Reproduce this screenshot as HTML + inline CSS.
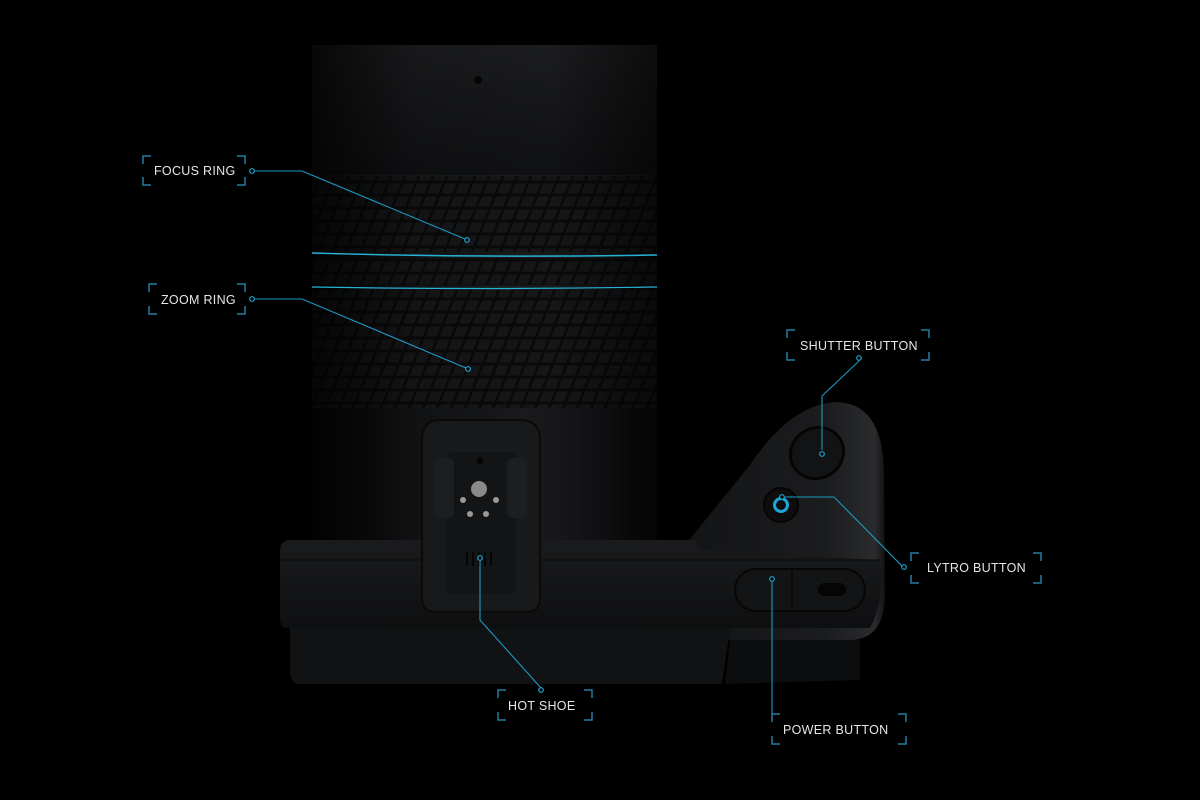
<!DOCTYPE html>
<html><head><meta charset="utf-8"><style>
html,body{margin:0;padding:0;background:#000;}
svg{display:block}
text{font-family:"Liberation Sans",sans-serif;font-size:12.5px;fill:#e6e6e6;letter-spacing:0.3px}
</style></head><body>
<svg width="1200" height="800" viewBox="0 0 1200 800" xmlns="http://www.w3.org/2000/svg">
<defs>
<linearGradient id="cyl" x1="0" x2="1" y1="0" y2="0">
<stop offset="0" stop-color="#08080a"/><stop offset="0.25" stop-color="#131416"/><stop offset="0.6" stop-color="#1c1d1f"/><stop offset="0.85" stop-color="#161719"/><stop offset="1" stop-color="#0a0a0b"/>
</linearGradient>
<linearGradient id="topfade" x1="0" x2="0" y1="0" y2="1">
<stop offset="0" stop-color="#1e1f21"/><stop offset="1" stop-color="#111214"/>
</linearGradient>
<linearGradient id="body" x1="0" x2="0" y1="0" y2="1">
<stop offset="0" stop-color="#1a1b1d"/><stop offset="1" stop-color="#0e0f10"/>
</linearGradient>
<linearGradient id="grip" x1="0" x2="1" y1="0" y2="0">
<stop offset="0" stop-color="#131416"/><stop offset="0.7" stop-color="#1b1c1e"/><stop offset="0.95" stop-color="#2a2b2d"/><stop offset="1" stop-color="#111"/>
</linearGradient>
<pattern id="knurl" width="14" height="13" patternUnits="userSpaceOnUse" patternTransform="skewX(-22)">
<rect width="14" height="13" fill="#0b0b0c"/>
<rect x="1.5" y="1.5" width="11" height="10" fill="#18191b"/>
</pattern>
<linearGradient id="shade" x1="0" x2="1" y1="0" y2="0">
<stop offset="0" stop-color="#000" stop-opacity="0.75"/><stop offset="0.3" stop-color="#000" stop-opacity="0.2"/><stop offset="0.7" stop-color="#000" stop-opacity="0.1"/><stop offset="1" stop-color="#000" stop-opacity="0.6"/>
</linearGradient>
</defs>
<rect width="1200" height="800" fill="#000"/>

<!-- lens -->
<rect x="312" y="45" width="345" height="505" fill="url(#cyl)"/>
<rect x="312" y="45" width="345" height="130" fill="url(#topfade)"/>
<rect x="312" y="45" width="345" height="130" fill="url(#shade)"/>
<circle cx="478" cy="80" r="4" fill="#050505"/>
<rect x="312" y="176" width="345" height="76" fill="url(#knurl)"/>
<rect x="312" y="258" width="345" height="27" fill="url(#knurl)"/>
<rect x="312" y="290" width="345" height="118" fill="url(#knurl)"/>
<rect x="312" y="176" width="345" height="232" fill="url(#shade)"/>
<path d="M312 253 Q480 258 657 255" stroke="#27b3d6" stroke-width="1.5" fill="none"/>
<path d="M312 287 Q480 290 657 287" stroke="#27b3d6" stroke-width="1.2" fill="none"/>
<rect x="312" y="408" width="345" height="140" fill="url(#shade)"/>

<!-- grip -->
<path d="M685 545 L750 465 Q790 405 835 402 Q882 402 884 470 L885 600 Q882 640 850 640 L685 640 Z" fill="url(#grip)"/>
<!-- body -->
<path d="M290 540 L690 540 Q700 540 700 550 L880 560 Q885 600 870 628 L285 628 Q280 628 280 615 L280 552 Q280 540 290 540 Z" fill="url(#body)"/>
<path d="M290 628 L730 628 L722 684 L300 684 Q290 684 290 670 Z" fill="#111213"/>
<path d="M730 640 L860 640 L860 680 L725 684 Z" fill="#0c0d0e"/>
<line x1="280" y1="560" x2="880" y2="560" stroke="#0a0a0a" stroke-width="1"/>
<!-- power pill -->
<rect x="735" y="569" width="130" height="42" rx="21" fill="#131415" stroke="#070707" stroke-width="2"/>
<line x1="792" y1="571" x2="792" y2="609" stroke="#070707" stroke-width="1.5"/>
<rect x="818" y="583" width="28" height="13" rx="6.5" fill="#050505"/>
<!-- shutter / lytro -->
<ellipse cx="817" cy="453" rx="27" ry="25" fill="#121314" stroke="#050505" stroke-width="3" transform="rotate(-30 817 453)"/>
<circle cx="781" cy="505" r="17" fill="#0d0d0e" stroke="#050505" stroke-width="2"/>
<circle cx="781" cy="505" r="6.5" fill="none" stroke="#1ba7d9" stroke-width="3"/>
<!-- hot shoe -->
<path d="M440 420 L520 420 Q540 420 540 440 L540 598 Q540 612 526 612 L436 612 Q422 612 422 598 L422 440 Q422 420 440 420 Z" fill="#18191b" stroke="#0a0a0a" stroke-width="2"/>
<rect x="446" y="452" width="70" height="142" rx="6" fill="#131415"/>
<rect x="434" y="458" width="20" height="60" rx="6" fill="#1d1e20"/>
<rect x="507" y="458" width="20" height="60" rx="6" fill="#1d1e20"/>
<circle cx="480" cy="461" r="3.5" fill="#050505"/>
<circle cx="479" cy="489" r="8" fill="#8a8a8a"/>
<circle cx="463" cy="500" r="3" fill="#999"/><circle cx="496" cy="500" r="3" fill="#999"/>
<circle cx="470" cy="514" r="3" fill="#999"/><circle cx="486" cy="514" r="3" fill="#999"/>
<g fill="#050505"><rect x="466" y="552" width="2" height="14"/><rect x="472" y="552" width="2" height="14"/><rect x="478" y="552" width="2" height="14"/><rect x="484" y="552" width="2" height="14"/><rect x="490" y="552" width="2" height="14"/></g>

<!-- callouts -->
<g stroke="#1d98c4" stroke-width="1.1" fill="none">
<polyline points="255,171 302,171 465,239"/>
<polyline points="255,299 302,299 466,368"/>
<polyline points="859,361 822,396 822,450"/>
<polyline points="785,497 834,497 902,566"/>
<polyline points="480,561 480,620 541,688"/>
<polyline points="772,582 772,714"/>
</g>
<g stroke="#22a6d2" stroke-width="1.2" fill="#000">
<circle cx="252" cy="171" r="2.3"/><circle cx="467" cy="240" r="2.3"/>
<circle cx="252" cy="299" r="2.3"/><circle cx="468" cy="369" r="2.3"/>
<circle cx="859" cy="358" r="2.3"/><circle cx="822" cy="454" r="2.3"/>
<circle cx="782" cy="497" r="2.3"/><circle cx="904" cy="567" r="2.3"/>
<circle cx="480" cy="558" r="2.3"/><circle cx="541" cy="690" r="2.3"/>
<circle cx="772" cy="579" r="2.3"/>
</g>
<!-- corner brackets -->
<g stroke="#237fa2" stroke-width="1.5" fill="none">
<path d="M151 156 h-8 v8 M143 177 v8 h8 M237 156 h8 v8 M245 177 v8 h-8"/>
<path d="M157 284 h-8 v8 M149 306 v8 h8 M237 284 h8 v8 M245 306 v8 h-8"/>
<path d="M795 330 h-8 v8 M787 352 v8 h8 M921 330 h8 v8 M929 352 v8 h-8"/>
<path d="M919 553 h-8 v8 M911 575 v8 h8 M1033 553 h8 v8 M1041 575 v8 h-8"/>
<path d="M506 690 h-8 v8 M498 712 v8 h8 M584 690 h8 v8 M592 712 v8 h-8"/>
<path d="M780 714 h-8 v8 M772 736 v8 h8 M898 714 h8 v8 M906 736 v8 h-8"/>
</g>
<text x="154" y="175">FOCUS RING</text>
<text x="161" y="304">ZOOM RING</text>
<text x="800" y="350">SHUTTER BUTTON</text>
<text x="927" y="572">LYTRO BUTTON</text>
<text x="508" y="710">HOT SHOE</text>
<text x="783" y="734">POWER BUTTON</text>
</svg>
</body></html>
